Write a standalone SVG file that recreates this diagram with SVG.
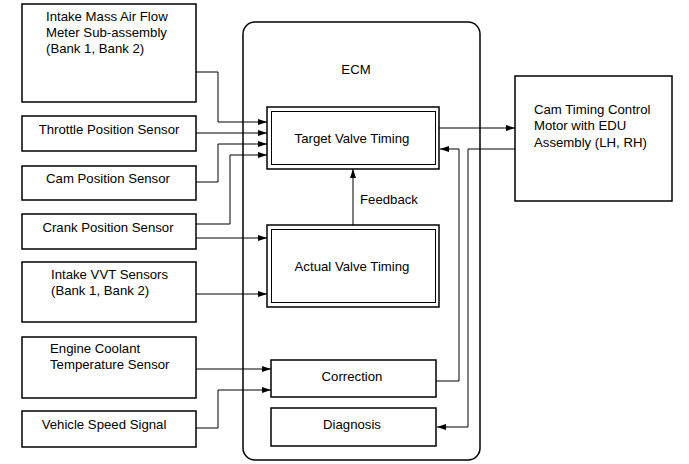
<svg xmlns="http://www.w3.org/2000/svg" width="689" height="464" viewBox="0 0 689 464">
<style>
.box{fill:#fff;stroke:#000;stroke-width:1.5}
.ln{fill:none;stroke:#000;stroke-width:1}
text{font-family:"Liberation Sans",Arial,sans-serif;font-size:13.2px;fill:#000}
.c{text-anchor:middle}
</style>
<defs>
<marker id="ah" markerWidth="9" markerHeight="6" refX="9" refY="3" orient="auto" markerUnits="userSpaceOnUse">
<path d="M0,0 L9,3 L0,6 Z" fill="#000"/>
</marker>
</defs>
<rect width="689" height="464" fill="#fff"/>
<g id="ecm">
<rect x="243" y="22" width="237" height="438" rx="12" class="box"/>
<text x="356" y="74" class="c">ECM</text>
</g>
<g id="maf">
<rect x="22" y="4" width="174" height="98" class="box"/>
<text x="46" y="21">Intake Mass Air Flow</text>
<text x="46" y="37">Meter Sub-assembly</text>
<text x="46" y="53">(Bank 1, Bank 2)</text>
</g>
<g id="tps">
<rect x="22" y="116" width="174" height="35" class="box"/>
<text x="109" y="134" class="c">Throttle Position Sensor</text>
</g>
<g id="cps">
<rect x="22" y="166" width="174" height="34" class="box"/>
<text x="108" y="183" class="c">Cam Position Sensor</text>
</g>
<g id="crank">
<rect x="22" y="214" width="174" height="35" class="box"/>
<text x="108" y="232" class="c">Crank Position Sensor</text>
</g>
<g id="vvt">
<rect x="22" y="262" width="174" height="60" class="box"/>
<text x="51" y="279">Intake VVT Sensors</text>
<text x="51" y="295">(Bank 1, Bank 2)</text>
</g>
<g id="ect">
<rect x="22" y="337" width="174" height="61" class="box"/>
<text x="50" y="353">Engine Coolant</text>
<text x="50" y="369">Temperature Sensor</text>
</g>
<g id="vss">
<rect x="22" y="411" width="174" height="36" class="box"/>
<text x="104" y="429" class="c">Vehicle Speed Signal</text>
</g>
<g id="target">
<rect x="267" y="107" width="172" height="62" class="box"/>
<rect x="271.5" y="111.5" width="164" height="53" fill="none" stroke="#000" stroke-width="1"/>
<text x="352" y="143" class="c">Target Valve Timing</text>
</g>
<g id="actual">
<rect x="267" y="225" width="172" height="82" class="box"/>
<rect x="271.5" y="229.5" width="164" height="73" fill="none" stroke="#000" stroke-width="1"/>
<text x="352" y="271" class="c">Actual Valve Timing</text>
</g>
<g id="correction">
<rect x="271" y="360" width="165" height="37" class="box"/>
<text x="352" y="381" class="c">Correction</text>
</g>
<g id="diagnosis">
<rect x="271" y="408" width="165" height="38" class="box"/>
<text x="352" y="429" class="c">Diagnosis</text>
</g>
<g id="motor">
<rect x="515" y="76" width="157" height="125" class="box"/>
<text x="534" y="114">Cam Timing Control</text>
<text x="534" y="130">Motor with EDU</text>
<text x="534" y="147">Assembly (LH, RH)</text>
</g>
<g id="connectors">
<polyline class="ln" points="196,72 218,72 218,122 267,122" marker-end="url(#ah)"/>
<polyline class="ln" points="196,133 267,133" marker-end="url(#ah)"/>
<polyline class="ln" points="196,182 218,182 218,144 267,144" marker-end="url(#ah)"/>
<polyline class="ln" points="196,224 230,224 230,155 267,155" marker-end="url(#ah)"/>
<polyline class="ln" points="196,238 267,238" marker-end="url(#ah)"/>
<polyline class="ln" points="196,294 267,294" marker-end="url(#ah)"/>
<polyline class="ln" points="196,369 271,369" marker-end="url(#ah)"/>
<polyline class="ln" points="196,428 218,428 218,390 271,390" marker-end="url(#ah)"/>
<polyline class="ln" points="353,225 353,169" marker-end="url(#ah)"/>
<text x="360" y="204">Feedback</text>
<polyline class="ln" points="439,128 515,128" marker-end="url(#ah)"/>
<polyline class="ln" points="436,381 459,381 459,149 440,149" marker-end="url(#ah)"/>
<polyline class="ln" points="515,149 468,149 468,427 437,427" marker-end="url(#ah)"/>
</g>
</svg>
